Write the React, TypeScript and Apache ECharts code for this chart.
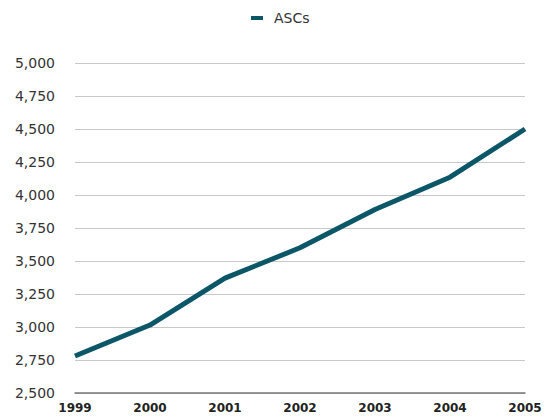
import React, { useEffect, useRef } from "react";
import * as echarts from "echarts";

const years = ["1999", "2000", "2001", "2002", "2003", "2004", "2005"];
const ascs = [2780, 3015, 3370, 3600, 3890, 4135, 4500];
const seriesName = "ASCs";

export default function App() {
  const ref = useRef<HTMLDivElement>(null);
  useEffect(() => {
    const chart = echarts.init(ref.current!, null, { renderer: "svg" });
    chart.setOption({
      animation: false,
      legend: {
        top: 6,
        left: 246,
        itemWidth: 12,
        itemHeight: 4,
        icon: "rect",
        textStyle: { fontFamily: "DejaVu Sans", fontSize: 14, color: "#333", padding: [0, 0, 0, 6] },
        data: [seriesName],
      },
      grid: { left: 75, right: 22, top: 63, bottom: 26, containLabel: false },
      xAxis: {
        type: "category",
        data: years,
        boundaryGap: false,
        axisLine: { lineStyle: { color: "#777", width: 1.5 } },
        axisTick: { show: false },
        axisLabel: {
          fontFamily: "DejaVu Sans",
          fontWeight: "bold",
          fontSize: 12,
          color: "#222",
          margin: 9,
          interval: 0,
        },
      },
      yAxis: {
        type: "value",
        min: 2500,
        max: 5000,
        interval: 250,
        axisLine: { show: false },
        axisTick: { show: false },
        splitLine: { lineStyle: { color: "#c8c8c8", width: 1 } },
        axisLabel: {
          fontFamily: "DejaVu Sans",
          fontSize: 14,
          color: "#333",
          margin: 20,
          formatter: (v: number) => v.toLocaleString("en-US"),
        },
      },
      series: [
        {
          name: seriesName,
          type: "line",
          data: ascs,
          symbol: "none",
          lineStyle: { color: "#0b5767", width: 5 },
          itemStyle: { color: "#0b5767" },
        },
      ],
    });
    return () => chart.dispose();
  }, []);
  return <div ref={ref} style={{ width: 547, height: 419, position: "absolute", left: 0, top: 0 }} />;
}
